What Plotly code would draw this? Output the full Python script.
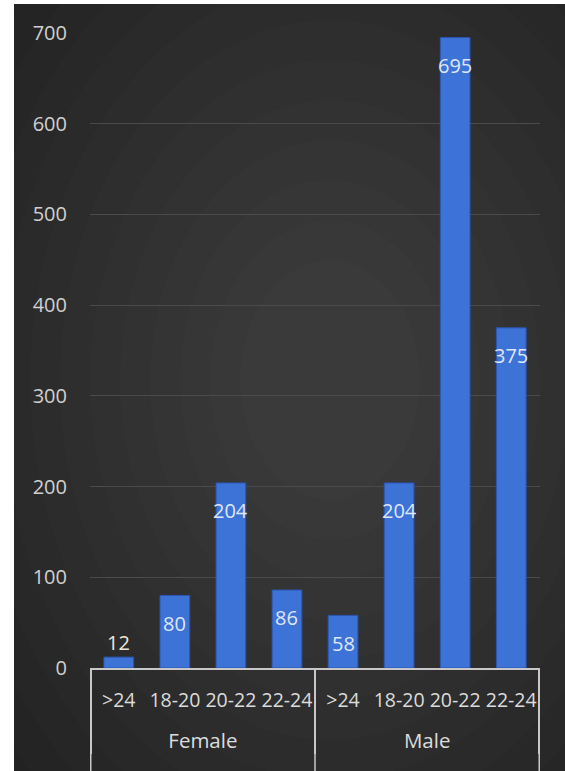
import plotly.graph_objects as go

# ---- data ----
genders = ["Female", "Female", "Female", "Female", "Male", "Male", "Male", "Male"]
age_groups = [">24", "18-20", "20-22", "22-24", ">24", "18-20", "20-22", "22-24"]
counts = [12, 80, 204, 86, 58, 204, 695, 375]
label_inside = [False, True, True, True, True, True, True, True]
y_ticks = [0, 100, 200, 300, 400, 500, 600, 700]

W, H = 565, 771
ML, MR, MT, MB = 90, 25, 33, 103
PW, PH = W - ML - MR, H - MT - MB

def px2paper_x(px):
    return (px - ML) / PW

def px2paper_y(py):
    return (H - MB - py) / PH

FONT = "Open Sans"

# group labels are pushed one line lower (as in the reference) with a leading break
group_display = ["<br><span style='font-size:20.5px'>" + g + "</span>" for g in genders]

fig = go.Figure()
fig.add_trace(go.Bar(
    x=[group_display, age_groups],
    y=counts,
    marker=dict(color="#3D72D6", line=dict(color="#2A55B3", width=1)),
    hoverinfo="y",
    showlegend=False,
))

# value labels
annotations = []
for i, (v, inside) in enumerate(zip(counts, label_inside)):
    annotations.append(dict(
        x=i, y=v, xref="x", yref="y", text=str(v), showarrow=False,
        yanchor="middle", xanchor="center",
        yshift=-28 if inside else 15,
        font=dict(family=FONT, size=20, color="#dfe7f7" if inside else "#ece9d6"),
    ))

# background: dark panel with soft radial lightening, white strips at left/top
shapes = [dict(type="rect", xref="paper", yref="paper", layer="below",
               x0=px2paper_x(0), x1=px2paper_x(W), y0=px2paper_y(H), y1=px2paper_y(0),
               fillcolor="#222222", line=dict(width=0))]
cx, cy = 330, 380
for k in range(12):
    rx = 420 - k * 30
    ry = 560 - k * 40
    shapes.append(dict(type="circle", xref="paper", yref="paper", layer="below",
                       x0=px2paper_x(cx - rx), x1=px2paper_x(cx + rx),
                       y0=px2paper_y(cy + ry), y1=px2paper_y(cy - ry),
                       fillcolor="rgba(255,255,255,0.011)", line=dict(width=0)))
shapes.append(dict(type="rect", xref="paper", yref="paper", layer="below",
                   x0=px2paper_x(0), x1=px2paper_x(14), y0=px2paper_y(H), y1=px2paper_y(0),
                   fillcolor="white", line=dict(width=0)))
shapes.append(dict(type="rect", xref="paper", yref="paper", layer="below",
                   x0=px2paper_x(0), x1=px2paper_x(W), y0=px2paper_y(4), y1=px2paper_y(0),
                   fillcolor="white", line=dict(width=0)))
# extend the group dividers down to the bottom edge
for xb in [-0.5, 3.5, 7.5]:
    shapes.append(dict(type="line", xref="x", yref="paper",
                       x0=xb, x1=xb, y0=px2paper_y(668), y1=px2paper_y(H),
                       line=dict(color="#c8c8c8", width=1.5)))

fig.update_layout(
    width=W, height=H,
    margin=dict(l=ML, r=MR, t=MT, b=MB, pad=0, autoexpand=False),
    paper_bgcolor="white",
    plot_bgcolor="rgba(0,0,0,0)",
    bargap=0.47,
    font=dict(family=FONT, size=20, color="#d6d6d6"),
    shapes=shapes,
    annotations=annotations,
    xaxis=dict(
        type="multicategory",
        automargin=False,
        tickangle=0,
        showline=True, linecolor="#c8c8c8", linewidth=1.5,
        showgrid=False, ticks="",
        ticklabelstandoff=14,
        tickfont=dict(family=FONT, size=19.5, color="#dcdcdc"),
        showdividers=True, dividercolor="#c8c8c8", dividerwidth=1.5,
    ),
    yaxis=dict(
        automargin=False,
        range=[0, 700], tickvals=y_ticks,
        showgrid=True, gridcolor="#4b4b4b", gridwidth=1,
        zeroline=False, showline=False, ticks="",
        tickfont=dict(family=FONT, size=20, color="#d0d0d0"),
        ticklabelstandoff=22,
    ),
)

fig.write_html("out.html")
